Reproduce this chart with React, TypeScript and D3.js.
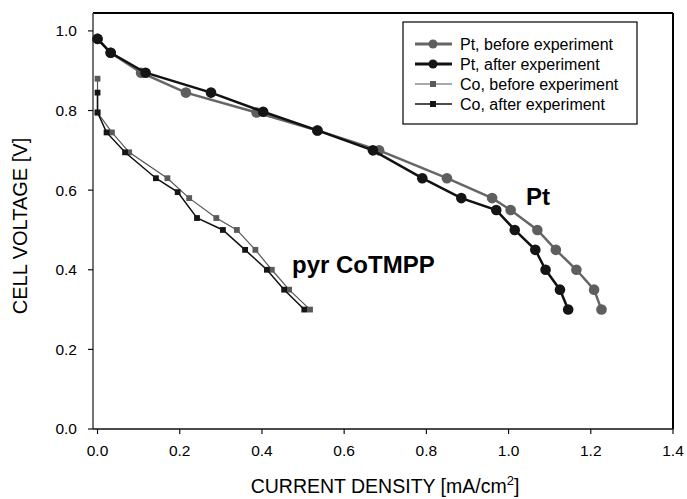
import React from "react";
import * as d3 from "d3";

const ptBeforeX = [0.0, 0.032, 0.106, 0.215, 0.387, 0.535, 0.685, 0.85, 0.96, 1.005, 1.07, 1.115, 1.165, 1.208, 1.226];
const ptBeforeY = [0.98, 0.945, 0.895, 0.845, 0.795, 0.75, 0.70, 0.63, 0.58, 0.55, 0.50, 0.45, 0.40, 0.35, 0.30];
const ptAfterX = [0.0, 0.032, 0.117, 0.276, 0.403, 0.535, 0.67, 0.79, 0.885, 0.97, 1.015, 1.065, 1.09, 1.125, 1.145];
const ptAfterY = [0.98, 0.945, 0.895, 0.845, 0.797, 0.75, 0.70, 0.63, 0.58, 0.55, 0.50, 0.45, 0.40, 0.35, 0.30];
const coBeforeX = [0.0, 0.0, 0.035, 0.077, 0.170, 0.223, 0.289, 0.339, 0.384, 0.424, 0.466, 0.517];
const coBeforeY = [0.88, 0.795, 0.745, 0.695, 0.63, 0.58, 0.53, 0.50, 0.45, 0.40, 0.35, 0.30];
const coAfterX = [0.0, 0.0, 0.022, 0.067, 0.142, 0.195, 0.242, 0.305, 0.359, 0.412, 0.454, 0.503];
const coAfterY = [0.845, 0.795, 0.745, 0.695, 0.63, 0.595, 0.53, 0.50, 0.45, 0.40, 0.35, 0.30];

const xTicks = [0, 0.2, 0.4, 0.6, 0.8, 1.0, 1.2, 1.4];
const yTicks = [0, 0.2, 0.4, 0.6, 0.8, 1.0];
const legendLabels = ["Pt, before experiment", "Pt, after experiment", "Co, before experiment", "Co, after experiment"];

const W = 687, H = 499;
const left = 93, right = 673, top = 13, bottom = 429;

export default function App() {
  const x = d3.scaleLinear().domain([-0.011, 1.4]).range([left, right]);
  const y = d3.scaleLinear().domain([0, 1.045]).range([bottom, top]);
  const line = d3.line<[number, number]>().x(d => x(d[0])).y(d => y(d[1]));
  const zip = (a: number[], b: number[]) => a.map((v, i) => [v, b[i]] as [number, number]);

  const series = [
    { data: zip(ptBeforeX, ptBeforeY), color: "#666666", lw: 2.5, marker: "circle", ms: 5.3, fill: "#5e5e5e" },
    { data: zip(ptAfterX, ptAfterY), color: "#111111", lw: 2.5, marker: "circle", ms: 5.3, fill: "#151515" },
    { data: zip(coBeforeX, coBeforeY), color: "#555555", lw: 1.2, marker: "square", ms: 5.8, fill: "#5a5a5a" },
    { data: zip(coAfterX, coAfterY), color: "#111111", lw: 1.5, marker: "square", ms: 5.8, fill: "#151515" },
  ];

  const font = "Liberation Sans, Arial, sans-serif";

  return (
    <svg width={W} height={H} style={{ position: "absolute", left: 0, top: 0 }} fontFamily={font}>
      <rect x={0} y={0} width={W} height={H} fill="#fff" />
      {/* frame */}
      <line x1={right} y1={top} x2={right} y2={bottom} stroke="#000" strokeWidth={2} />
      <line x1={left} y1={top} x2={right} y2={top} stroke="#000" strokeWidth={2} />
      <line x1={left} y1={top} x2={left} y2={bottom} stroke="#444" strokeWidth={1.5} />
      <line x1={left} y1={bottom} x2={right} y2={bottom} stroke="#111" strokeWidth={1.5} />
      {yTicks.map(t => (
        <g key={"y" + t}>
          <line x1={left - 5} x2={left} y1={y(t)} y2={y(t)} stroke="#111" strokeWidth={1.2} />
          <text x={77} y={y(t)} dy="0.35em" textAnchor="end" fontSize={15.5}>{t.toFixed(1)}</text>
        </g>
      ))}
      {xTicks.map(t => (
        <g key={"x" + t}>
          <line x1={x(t)} x2={x(t)} y1={bottom} y2={bottom + 5} stroke="#111" strokeWidth={1.2} />
          <text x={x(t)} y={456} textAnchor="middle" fontSize={15.5}>{t.toFixed(1)}</text>
        </g>
      ))}
      <text transform={`translate(27,${(top + bottom) / 2 + 5}) rotate(-90)`} textAnchor="middle" fontSize={20}>CELL VOLTAGE [V]</text>
      <text x={385} y={493} textAnchor="middle" fontSize={19.5}>CURRENT DENSITY [mA/cm<tspan dy={-8} fontSize={13}>2</tspan><tspan dy={8}>]</tspan></text>

      {series.map((s, i) => (
        <g key={i}>
          <path d={line(s.data) || ""} fill="none" stroke={s.color} strokeWidth={s.lw} />
          {s.data.map((d, j) =>
            s.marker === "circle" ? (
              <circle key={j} cx={x(d[0])} cy={y(d[1])} r={s.ms} fill={s.fill} />
            ) : (
              <rect key={j} x={x(d[0]) - s.ms / 2} y={y(d[1]) - s.ms / 2} width={s.ms} height={s.ms} fill={s.fill} />
            )
          )}
        </g>
      ))}

      <text x={526} y={205} fontSize={24} fontWeight="bold">Pt</text>
      <text x={292} y={273} fontSize={24} fontWeight="bold">pyr CoTMPP</text>

      {/* legend */}
      <rect x={403} y={22} width={234} height={102} fill="#fff" stroke="#000" strokeWidth={1.2} />
      {series.map((s, i) => {
        const ly = 44 + i * 20;
        return (
          <g key={"l" + i}>
            <line x1={415} x2={452} y1={ly} y2={ly} stroke={s.color} strokeWidth={s.marker === "circle" ? 3 : s.lw} />
            {s.marker === "circle" ? (
              <circle cx={433} cy={ly} r={4.5} fill={s.fill} />
            ) : (
              <rect x={433 - 3} y={ly - 3} width={6} height={6} fill={s.fill} />
            )}
            <text x={460} y={ly} dy="0.35em" fontSize={16}>{legendLabels[i]}</text>
          </g>
        );
      })}
    </svg>
  );
}
